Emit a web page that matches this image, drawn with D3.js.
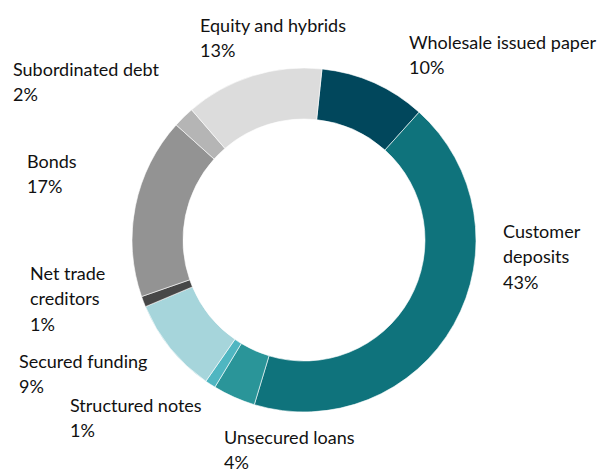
<!DOCTYPE html>
<html>
<head>
<meta charset="utf-8">
<script src="https://cdn.jsdelivr.net/npm/d3@7"></script>
<style>
  body { margin: 0; background: #fff; }
  #chart text { font-family: Lato, "Open Sans", sans-serif; font-size: 18px; fill: #111; }
</style>
</head>
<body>
<svg id="chart" width="605" height="470"></svg>
<script>
// funding mix, clockwise from the top
var categories = ["Wholesale issued paper", "Customer deposits", "Unsecured loans", "Structured notes",
    "Secured funding", "Net trade creditors", "Bonds", "Subordinated debt", "Equity and hybrids"];
var shares = [10, 43, 4, 1, 9, 1, 17, 2, 13];
// how each label wraps
var labelLines = [
    ["Wholesale issued paper"],
    ["Customer", "deposits"],
    ["Unsecured loans"],
    ["Structured notes"],
    ["Secured funding"],
    ["Net trade", "creditors"],
    ["Bonds"],
    ["Subordinated debt"],
    ["Equity and hybrids"]
];

var colors = ["#01475c", "#0f737c", "#2a9599", "#4fb6c1", "#a6d5db", "#474747", "#939393", "#b5b5b5", "#dcdcdc"];
// left x / first baseline of every label block
var labelPos = [[409, 49], [503, 238], [224, 444], [70, 412], [19, 368], [30, 280], [27, 168], [13, 76], [200, 32]];

var width = 605, height = 470;
var cx = 304, cy = 240, outerR = 172, innerR = 121;
var lineH = 25.3;

var svg = d3.select("#chart");

var startA = 6 * Math.PI / 180;
var pie = d3.pie()
    .sort(null)
    .value(function(d) { return d; })
    .startAngle(startA)
    .endAngle(startA + 2 * Math.PI);

var arc = d3.arc().innerRadius(innerR).outerRadius(outerR);

var g = svg.append("g").attr("transform", "translate(" + cx + "," + cy + ")");

g.selectAll("path")
    .data(pie(shares))
    .enter().append("path")
    .attr("d", arc)
    .attr("fill", function(d, i) { return colors[i]; })
    .attr("stroke", "#fff")
    .attr("stroke-width", 0.6);

var labels = svg.selectAll("text.lbl")
    .data(categories)
    .enter().append("text")
    .attr("class", "lbl")
    .attr("x", function(d, i) { return labelPos[i][0]; })
    .attr("y", function(d, i) { return labelPos[i][1]; });

labels.each(function(d, i) {
    var t = d3.select(this);
    var lines = labelLines[i].concat([shares[i] + "%"]);
    lines.forEach(function(s, k) {
        t.append("tspan")
            .attr("x", labelPos[i][0])
            .attr("dy", k == 0 ? 0 : lineH)
            .text(s);
    });
});
</script>
</body>
</html>
